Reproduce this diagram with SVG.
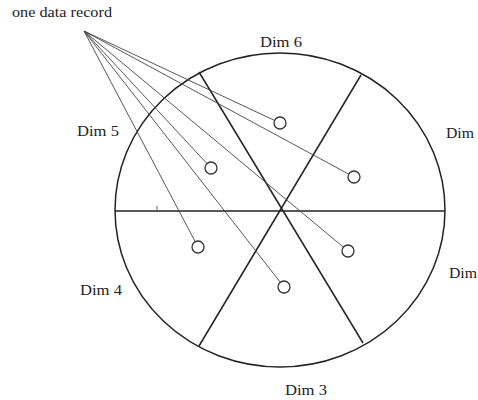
<svg xmlns="http://www.w3.org/2000/svg" width="478" height="400" viewBox="0 0 478 400">
<style>
.lbl{font-family:"Liberation Serif","Times New Roman",serif;font-size:15.5px;fill:#222}
.ttl{font-family:"Liberation Serif","Times New Roman",serif;font-size:15px;fill:#222}
.frame{fill:none;stroke:#222;stroke-width:1.5}
.conn{stroke:#444;stroke-width:0.9;fill:none}
.rec{fill:#fff;stroke:#333;stroke-width:1.3}
</style>
<rect width="478" height="400" fill="#fff"/>
<g id="frame">
<ellipse class="frame" cx="280" cy="210" rx="165" ry="157"/>
<line class="frame" x1="115" y1="211" x2="445" y2="211"/>
<line class="frame" x1="199" y1="72" x2="363" y2="343"/>
<line class="frame" x1="361" y1="75" x2="199" y2="346"/>
<line x1="157" y1="206" x2="157" y2="210" stroke="#444" stroke-width="0.8"/>
</g>
<g id="connectors">
<line class="conn" x1="84" y1="31" x2="280" y2="123"/>
<line class="conn" x1="84" y1="31" x2="354" y2="177"/>
<line class="conn" x1="84" y1="31" x2="211" y2="168"/>
<line class="conn" x1="84" y1="31" x2="348" y2="251"/>
<line class="conn" x1="84" y1="31" x2="198" y2="247"/>
<line class="conn" x1="84" y1="31" x2="284" y2="287"/>
</g>
<g id="record1"><circle class="rec" cx="280" cy="123" r="6"/></g>
<g id="record2"><circle class="rec" cx="354" cy="177" r="6"/></g>
<g id="record3"><circle class="rec" cx="211" cy="168" r="6"/></g>
<g id="record4"><circle class="rec" cx="348" cy="251" r="6"/></g>
<g id="record5"><circle class="rec" cx="198" cy="247" r="6"/></g>
<g id="record6"><circle class="rec" cx="284" cy="287" r="6"/></g>
<g id="labels">
<text class="ttl" x="12" y="17" textLength="100" lengthAdjust="spacingAndGlyphs">one data record</text>
<text class="lbl" x="260" y="47" textLength="42" lengthAdjust="spacingAndGlyphs">Dim 6</text>
<text class="lbl" x="446" y="138" textLength="28" lengthAdjust="spacingAndGlyphs">Dim</text>
<text class="lbl" x="77" y="136" textLength="42" lengthAdjust="spacingAndGlyphs">Dim 5</text>
<text class="lbl" x="449" y="278" textLength="28" lengthAdjust="spacingAndGlyphs">Dim</text>
<text class="lbl" x="80" y="295" textLength="42" lengthAdjust="spacingAndGlyphs">Dim 4</text>
<text class="lbl" x="285" y="395" textLength="42" lengthAdjust="spacingAndGlyphs">Dim 3</text>
</g>
</svg>
